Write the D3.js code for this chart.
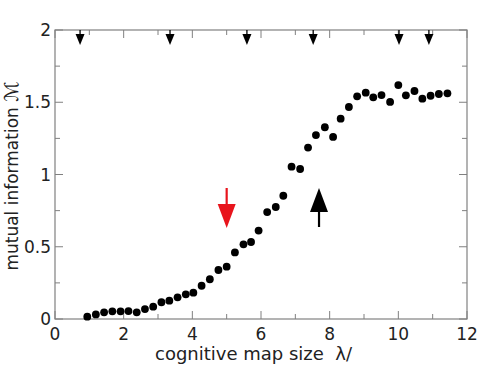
<!DOCTYPE html>
<html><head><meta charset="utf-8">
<script src="https://cdn.jsdelivr.net/npm/d3@7"></script>
<style>body{margin:0;background:#fff;} svg{display:block;font-family:"DejaVu Sans",sans-serif;}</style>
</head><body>
<script>
const lambdaVals = [0.94,1.19,1.43,1.67,1.91,2.14,2.38,2.62,2.86,3.10,3.33,3.57,3.81,4.03,4.27,4.51,4.76,5.00,5.24,5.49,
  5.71,5.93,6.18,6.43,6.65,6.89,7.14,7.37,7.60,7.86,8.10,8.32,8.56,8.80,9.05,9.27,9.51,9.76,10.00,10.22,10.47,10.70,10.94,11.18,11.43];
const miVals = [0.016,0.032,0.046,0.053,0.053,0.055,0.046,0.069,0.085,0.116,0.127,0.150,0.171,0.182,0.230,0.275,0.339,0.362,0.461,0.517,
  0.533,0.612,0.740,0.775,0.853,1.054,1.038,1.186,1.273,1.327,1.260,1.386,1.467,1.541,1.566,1.534,1.550,1.502,1.619,1.548,1.578,1.525,1.545,1.557,1.562];
const topMarkers = [0.73,3.35,5.59,7.52,10.02,10.89];
const xTicks = [0,2,4,6,8,10,12];
const yTicks = [0,0.5,1,1.5,2];
const yTickLabels = ["0","0.5","1","1.5","2"];
const redArrowX = 5.0, blackArrowX = 7.69;

const W=498,H=372, L=55,R=467,T=30,B=319;
const svg=d3.select("body").append("svg").attr("width",W).attr("height",H);
const x=d3.scaleLinear().domain([0,12]).range([L,R]);
const y=d3.scaleLinear().domain([0,2]).range([B,T]);
const frame="#808080";

// ticks inward on all sides
const g=svg.append("g").attr("stroke",frame).attr("stroke-width",1);
d3.range(0,12.01,1).forEach(v=>{
  const len = (v%2===0)?8:5;
  g.append("line").attr("x1",x(v)).attr("x2",x(v)).attr("y1",B).attr("y2",B-len);
  g.append("line").attr("x1",x(v)).attr("x2",x(v)).attr("y1",T).attr("y2",T+len);
});
d3.range(0,2.001,0.25).forEach(v=>{
  const len = (Math.abs(v*2-Math.round(v*2))<1e-6)?8:5;
  g.append("line").attr("y1",y(v)).attr("y2",y(v)).attr("x1",L).attr("x2",L+len);
  g.append("line").attr("y1",y(v)).attr("y2",y(v)).attr("x1",R).attr("x2",R-len);
});
svg.append("rect").attr("x",L).attr("y",T).attr("width",R-L).attr("height",B-T)
  .attr("fill","none").attr("stroke",frame).attr("stroke-width",1.2);

// tick labels
svg.append("g").selectAll("text").data(xTicks).join("text")
  .attr("x",d=>x(d)).attr("y",340).attr("text-anchor","middle")
  .attr("font-size",17).attr("fill","#222").text(d=>d);
svg.append("g").selectAll("text").data(yTicks).join("text")
  .attr("x",51).attr("y",d=>y(d)+6).attr("text-anchor","end")
  .attr("font-size",17).attr("fill","#222").text((d,i)=>yTickLabels[i]);

// axis titles
svg.append("text").attr("x",155).attr("y",360).attr("font-size",18).attr("fill","#222")
  .attr("xml:space","preserve").text("cognitive map size  λ/");
const yt=svg.append("text").attr("transform","translate(18,176) rotate(-90)").attr("text-anchor","middle")
  .attr("font-size",17).attr("fill","#222");
yt.append("tspan").text("mutual information ");
yt.append("tspan").attr("font-size",19).text("ℳ");

// top markers
const mk=svg.append("g").attr("fill","#000").attr("stroke","#000");
topMarkers.forEach(v=>{
  const cx=x(v);
  mk.append("line").attr("x1",cx).attr("x2",cx).attr("y1",T).attr("y2",T+6).attr("stroke-width",1.3);
  mk.append("path").attr("d",`M${cx-4.5},${T+4}L${cx+4.5},${T+4}L${cx},${T+15}Z`).attr("stroke","none");
});

// red down arrow
const rx=x(redArrowX);
svg.append("line").attr("x1",rx).attr("x2",rx).attr("y1",188).attr("y2",210).attr("stroke","#e8141c").attr("stroke-width",2.2);
svg.append("path").attr("d",`M${rx-9},204L${rx+9},204L${rx},228Z`).attr("fill","#e8141c");
// black up arrow
const bx=x(blackArrowX);
svg.append("line").attr("x1",bx).attr("x2",bx).attr("y1",205).attr("y2",227).attr("stroke","#000").attr("stroke-width",2.2);
svg.append("path").attr("d",`M${bx-9},212L${bx+9},212L${bx},188Z`).attr("fill","#000");

// data points
svg.append("g").selectAll("circle").data(lambdaVals).join("circle")
  .attr("cx",d=>x(d)).attr("cy",(d,i)=>y(miVals[i])).attr("r",3.9).attr("fill","#000");
</script>
</body></html>
